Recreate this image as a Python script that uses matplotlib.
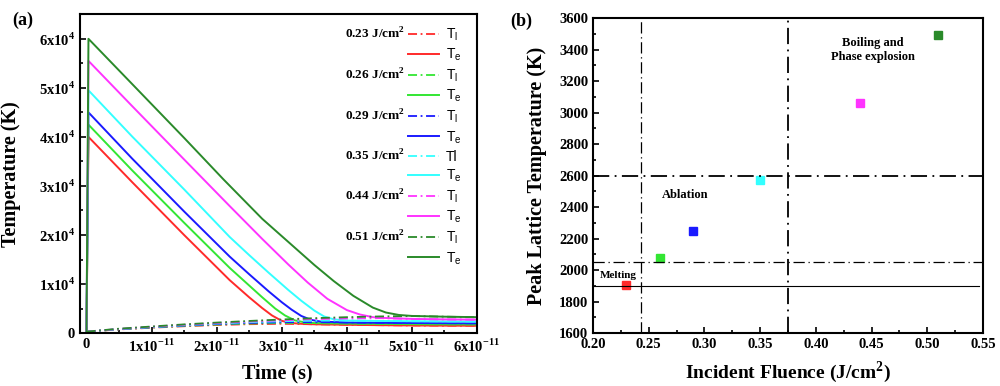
import matplotlib
matplotlib.use('Agg')
import matplotlib.pyplot as plt
from matplotlib.ticker import MultipleLocator, FixedLocator

plt.rcParams['font.family'] = ['Liberation Serif', 'DejaVu Serif']
plt.rcParams['font.weight'] = 'bold'
plt.rcParams['mathtext.fontset'] = 'custom'
plt.rcParams['mathtext.rm'] = 'Liberation Serif:bold'
plt.rcParams['mathtext.bf'] = 'Liberation Serif:bold'

# ---------------- data ----------------
fluences = [0.23, 0.26, 0.29, 0.35, 0.44, 0.51]
fluence_labels = ['0.23 J/cm$^\\mathregular{2}$', '0.26 J/cm$^\\mathregular{2}$',
                  '0.29 J/cm$^\\mathregular{2}$', '0.35 J/cm$^\\mathregular{2}$',
                  '0.44 J/cm$^\\mathregular{2}$', '0.51 J/cm$^\\mathregular{2}$']
tl_labels = ['T$_\\mathregular{l}$', 'T$_\\mathregular{l}$', 'T$_\\mathregular{l}$',
             'Tl', 'T$_\\mathregular{l}$', 'T$_\\mathregular{l}$']
te_label = 'T$_\\mathregular{e}$'
colors = ['#ff2a2a', '#33e633', '#1a1aff', '#33ffff', '#ff33ff', '#2a8a2a']
peak_lattice = [1905, 2080, 2250, 2570, 3060, 3490]

# lattice temperature (ps, K)
tl_time_ps = [0, 5, 10, 15, 20, 25, 30, 35, 40, 45, 50, 55, 60]
tl_023 = [300, 750, 1100, 1400, 1650, 1820, 1900, 1800, 1700, 1620, 1560, 1520, 1500]
tl_026 = [300, 780, 1150, 1480, 1750, 1950, 2060, 2040, 1950, 1880, 1830, 1800, 1780]
tl_029 = [300, 800, 1200, 1550, 1850, 2080, 2220, 2240, 2170, 2100, 2060, 2030, 2000]
tl_035 = [300, 830, 1250, 1620, 1950, 2220, 2420, 2540, 2560, 2480, 2420, 2380, 2350]
tl_044 = [300, 860, 1300, 1700, 2050, 2350, 2620, 2850, 3000, 3050, 2900, 2800, 2750]
tl_051 = [300, 900, 1350, 1780, 2150, 2480, 2780, 3050, 3250, 3400, 3480, 3350, 3250]

# electron temperature (ps, K)
te_t_023 = [0, 0.3, 7, 15, 22, 25, 27, 28.5, 30, 31.5, 33, 35, 40, 45, 50, 55, 60]
te_023 = [300, 40000, 30800, 20000, 10800, 7300, 5100, 3600, 2500, 2050, 1900, 1800, 1700, 1620, 1560, 1520, 1500]
te_t_026 = [0, 0.3, 7, 15, 22, 25, 27, 29, 30.5, 32, 33.5, 35, 40, 45, 50, 55, 60]
te_026 = [300, 42500, 33200, 22500, 13300, 9700, 7300, 5000, 3600, 2600, 2200, 2050, 1950, 1880, 1830, 1800, 1780]
te_t_029 = [0, 0.3, 7, 15, 22, 25, 28, 30, 31.5, 33, 34.5, 36, 40, 45, 50, 55, 60]
te_029 = [300, 45000, 35600, 24800, 15600, 12000, 8500, 6300, 4800, 3500, 2700, 2350, 2170, 2100, 2060, 2030, 2000]
te_t_035 = [0, 0.3, 7, 15, 22, 25, 28, 31, 33, 35, 36.5, 38, 40, 45, 50, 55, 60]
te_035 = [300, 49500, 40100, 29300, 19600, 15900, 12300, 8800, 6600, 4600, 3400, 2800, 2560, 2480, 2420, 2380, 2350]
te_t_044 = [0, 0.3, 7, 15, 22, 27, 31, 34, 37, 40, 42, 44, 46, 50, 55, 60]
te_044 = [300, 55500, 46300, 35400, 25900, 19200, 14000, 10300, 7000, 4700, 3800, 3250, 3080, 2900, 2800, 2750]
te_t_051 = [0, 0.3, 7, 15, 21, 27, 31, 35, 38, 41, 44, 46, 48, 50, 55, 60]
te_051 = [300, 60000, 50800, 39800, 31400, 23300, 18600, 13900, 10600, 7600, 5200, 4200, 3700, 3500, 3350, 3250]

tl_series = [tl_023, tl_026, tl_029, tl_035, tl_044, tl_051]
te_times = [te_t_023, te_t_026, te_t_029, te_t_035, te_t_044, te_t_051]
te_series = [te_023, te_026, te_029, te_035, te_044, te_051]

x_ticks_s = [0, 1e-11, 2e-11, 3e-11, 4e-11, 5e-11, 6e-11]
x_ticklabels = ['0'] + ['%dx10$^\\mathregular{-11}$' % k for k in range(1, 7)]
y_ticks_a = [0, 1e4, 2e4, 3e4, 4e4, 5e4, 6e4]
y_ticklabels_a = ['0'] + ['%dx10$^\\mathregular{4}$' % k for k in range(1, 7)]

# ---------------- figure ----------------
fig = plt.figure(figsize=(10, 3.86), dpi=100)
ax1 = fig.add_axes([0.080, 0.137, 0.397, 0.826])
ax2 = fig.add_axes([0.593, 0.137, 0.390, 0.816])

dashdot = (0, (5, 2, 1, 2))
for i in range(6):
    ax1.plot([t * 1e-12 for t in tl_time_ps], tl_series[i], color=colors[i],
             lw=1.3, ls=dashdot, label=tl_labels[i])
    ax1.plot([t * 1e-12 for t in te_times[i]], te_series[i], color=colors[i],
             lw=1.4, ls='-', label=te_label)

ax1.set_xlim(-1e-12, 6e-11)
ax1.set_ylim(0, 6.5e4)
ax1.xaxis.set_major_locator(FixedLocator(x_ticks_s))
ax1.set_xticklabels(x_ticklabels)
ax1.xaxis.set_minor_locator(MultipleLocator(0.5e-11))
ax1.yaxis.set_major_locator(FixedLocator(y_ticks_a))
ax1.set_yticklabels(y_ticklabels_a)
ax1.yaxis.set_minor_locator(MultipleLocator(5e3))
ax1.set_xlabel('Time (s)', fontsize=14.5, fontweight='bold')
ax1.set_ylabel('Temperature (K)', fontsize=14.5, fontweight='bold')
ax1.xaxis.set_label_coords(0.498, -0.094)
ax1.yaxis.set_label_coords(-0.149, 0.5)

leg = ax1.legend(loc='upper right', bbox_to_anchor=(0.96, 0.962), frameon=False,
                 prop={'family': 'Liberation Sans', 'weight': 'normal', 'size': 10},
                 handlelength=2.2, handletextpad=0.5, labelspacing=0.30,
                 borderpad=0, borderaxespad=0)

# right panel
for i in range(6):
    ax2.plot([fluences[i]], [peak_lattice[i]], ls='none', marker='s', ms=6,
             color=colors[i], mec=colors[i])

ax2.axvline(0.243, color='black', lw=0.9, ls=(0, (9, 3, 1, 3)))
ax2.axvline(0.375, color='black', lw=1.3, ls=(0, (9, 3, 1, 3)))
ax2.axhline(2600, color='black', lw=1.3, ls=(0, (9, 3, 1, 3)))
ax2.axhline(2050, color='black', lw=0.9, ls=(0, (9, 3, 1, 3)))
ax2.plot([0.20, 0.546], [1900, 1900], color='black', lw=0.8)

ax2.text(0.451, 3400, 'Boiling and\nPhase explosion', ha='center', va='center',
         fontsize=9, fontweight='bold', linespacing=1.25)
ax2.text(0.2826, 2480, 'Ablation', ha='center', va='center', fontsize=9, fontweight='bold')
ax2.text(0.2227, 1968, 'Melting', ha='center', va='center', fontsize=8, fontweight='bold')

ax2.set_xlim(0.20, 0.55)
ax2.set_ylim(1600, 3600)
ax2.xaxis.set_major_locator(MultipleLocator(0.05))
ax2.xaxis.set_minor_locator(MultipleLocator(0.025))
ax2.yaxis.set_major_locator(MultipleLocator(200))
ax2.yaxis.set_minor_locator(MultipleLocator(100))
ax2.xaxis.set_major_formatter(matplotlib.ticker.FormatStrFormatter('%.2f'))
ax2.set_xlabel('Incident Fluence (J/cm$^\\mathregular{2}$)', fontsize=14, fontweight='bold')
ax2.set_ylabel('Peak Lattice Temperature (K)', fontsize=14.5, fontweight='bold')
ax2.xaxis.set_label_coords(0.5, -0.082)
ax2.yaxis.set_label_coords(-0.118, 0.5)

for ax in (ax1, ax2):
    for sp in ax.spines.values():
        sp.set_linewidth(1.5)
    ax.tick_params(which='both', direction='in', top=False, right=False,
                   labelsize=10.5, width=1.2)
    ax.tick_params(which='major', length=4.5)
    ax.tick_params(which='minor', length=2.5)
    for lab in ax.get_xticklabels() + ax.get_yticklabels():
        lab.set_fontweight('bold')

fig.text(0.012, 1 - 20 / 386, '(a)', fontsize=13, fontweight='bold', va='center')
fig.text(0.510, 1 - 21 / 386, '(b)', fontsize=13, fontweight='bold', va='center')

# fluence labels next to the T_l legend handles
fig.canvas.draw()
renderer = fig.canvas.get_renderer()
handles = leg.legend_handles
inv = fig.transFigure.inverted()
for i in range(6):
    h = handles[2 * i]
    bb = h.get_window_extent(renderer)
    x, y = inv.transform((bb.x0 - 3, (bb.y0 + bb.y1) / 2))
    fig.text(x, y, fluence_labels[i], ha='right', va='center', fontsize=9.5,
             fontweight='bold')

fig.savefig('out.png', dpi=100)
